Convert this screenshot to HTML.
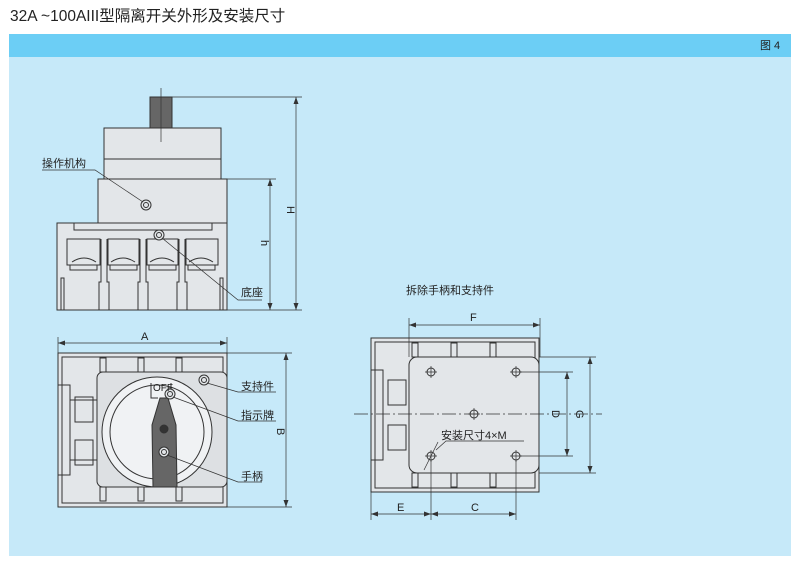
<!DOCTYPE html><html><head><meta charset="utf-8"><style>
body{margin:0;background:#fff;width:800px;height:569px;overflow:hidden;font-family:"Liberation Sans","Noto Sans CJK SC",sans-serif}
</style></head><body>
<svg width="800" height="569" viewBox="0 0 800 569" xmlns="http://www.w3.org/2000/svg" font-family="Liberation Sans, Noto Sans CJK SC, sans-serif">
<text x="10" y="21" font-size="15.5" fill="#222">32A ~100AIII型隔离开关外形及安装尺寸</text>
<rect x="9" y="34" width="782" height="23" fill="#6ccef5"/>
<rect x="9" y="57" width="782" height="499" fill="#c6e9f9"/>
<text x="760" y="49" font-size="11" fill="#222">图 4</text>
<g stroke="#333" stroke-width="1" fill="#e3e6e9">
<!-- top view -->
<rect x="150" y="97" width="22" height="31" fill="#666"/>
<rect x="104" y="128" width="117" height="51"/>
<line x1="104" y1="159" x2="221" y2="159"/>
<rect x="98" y="179" width="129" height="44"/>
<rect x="57" y="223" width="170" height="87"/>
<rect x="74" y="223" width="138" height="7"/>
<g fill="none">
<rect x="67" y="239" width="33" height="26"/><rect x="70" y="265" width="27" height="5"/><path d="M72 262 q12-8 24 0"/>
<rect x="108" y="239" width="31" height="26"/><rect x="110" y="265" width="27" height="5"/><path d="M111 262 q12-8 24 0"/>
<rect x="147" y="239" width="31" height="26"/><rect x="149" y="265" width="27" height="5"/><path d="M150 262 q12-8 24 0"/>
<rect x="186" y="239" width="32" height="26"/><rect x="188" y="265" width="27" height="5"/><path d="M189 262 q12-8 24 0"/>
<path d="M101 239 V282 H99 V310 M107 239 V282 H109 V310"/>
<path d="M140 239 V282 H138 V310 M146 239 V282 H148 V310"/>
<path d="M179 239 V282 H177 V310 M185 239 V282 H187 V310"/>
<path d="M61 310 V278 H64 V310 M223 310 V278 H220 V310"/>
</g>
<circle cx="146" cy="205" r="5"/><circle cx="146" cy="205" r="2.5"/>
<circle cx="159" cy="235" r="5"/><circle cx="159" cy="235" r="2.5"/>
<!-- front view -->
<rect x="58" y="353" width="169" height="154"/>
<rect x="62" y="357" width="161" height="146" fill="none"/>
<path d="M58 385 H70 V475 H58 M70 400 H97 M70 460 H97" fill="none"/>
<rect x="75" y="397" width="18" height="25" fill="none"/><rect x="75" y="440" width="18" height="25" fill="none"/>
<rect x="100" y="358" width="6" height="14" fill="none"/><rect x="138" y="358" width="6" height="14" fill="none"/><rect x="176" y="358" width="6" height="14" fill="none"/>
<rect x="100" y="487" width="6" height="14" fill="none"/><rect x="138" y="487" width="6" height="14" fill="none"/><rect x="176" y="487" width="6" height="14" fill="none"/>
<rect x="97" y="372" width="130" height="115" rx="6" fill="#dde0e3"/>
<circle cx="157" cy="432" r="55" fill="#f0f2f4"/>
<circle cx="157" cy="432" r="47" fill="#f0f2f4"/>
<path d="M151 383 V398 H158 M171 383 V396" fill="none"/>
<polygon points="160,398 168,398 176,425 177,487 153,487 152,425" fill="#666"/>
<circle cx="164" cy="429" r="4" fill="#333"/>
<circle cx="164" cy="452" r="5"/><circle cx="164" cy="452" r="2.5"/>
<circle cx="170" cy="394" r="5"/><circle cx="170" cy="394" r="2.5"/>
<circle cx="204" cy="380" r="5"/><circle cx="204" cy="380" r="2.5"/>
<!-- right view -->
<rect x="371" y="338" width="168" height="154"/>
<rect x="375" y="342" width="160" height="146" fill="none"/>
<path d="M371 370 H383 V460 H371" fill="none"/>
<rect x="388" y="380" width="18" height="25" fill="none"/><rect x="388" y="425" width="18" height="25" fill="none"/>
<rect x="412" y="343" width="6" height="14" fill="none"/><rect x="451" y="343" width="6" height="14" fill="none"/><rect x="490" y="343" width="6" height="14" fill="none"/>
<rect x="412" y="473" width="6" height="14" fill="none"/><rect x="451" y="473" width="6" height="14" fill="none"/><rect x="490" y="473" width="6" height="14" fill="none"/>
<rect x="409" y="357" width="130" height="116" rx="8"/>
<g fill="none"><circle cx="431" cy="372" r="4"/><circle cx="516" cy="372" r="4"/><circle cx="431" cy="456" r="4"/><circle cx="516" cy="456" r="4"/><circle cx="474" cy="414" r="4"/></g>
</g>
<g stroke="#333" stroke-width="0.7" fill="none">
<line x1="474" y1="408" x2="474" y2="420"/><line x1="468" y1="414" x2="480" y2="414"/>
<path d="M431 366V378M425 372H437M516 366V378M510 372H522M431 450V462M425 456H437M516 450V462M510 456H522"/>
<line x1="354" y1="414" x2="602" y2="414" stroke-dasharray="14,3,2,3"/>
<line x1="161" y1="88" x2="161" y2="142"/>
<!-- leaders -->
<path d="M42 170 H95 L143 202"/><path d="M162 238 L238 300 H262"/>
<path d="M207 383 L238 392 H276"/><path d="M173 397 L238 421 H276"/><path d="M167 455 L238 482 H262"/>
<path d="M436 450 L446 441 H524"/><path d="M424 470 L438 442"/>
<!-- dimensions -->
<path d="M172 97 H302 M221 179 H276 M227 310 H302"/>
<path d="M296 97 V310 M270 179 V310"/>
<path d="M58 337 V353 M227 337 V353 M58 343 H227"/>
<path d="M227 353 H292 M227 507 H292 M286 353 V507"/>
<path d="M409 318 V357 M540 318 V357 M409 325 H540"/>
<path d="M520 372 H573 M520 456 H573 M567 372 V456"/>
<path d="M539 357 H596 M539 473 H596 M590 357 V473"/>
<path d="M371 492 V520 M431 460 V520 M516 460 V520 M371 514 H516"/>
</g>
<g fill="#333">
<path d="M296 97l-2.5 7h5zM296 310l-2.5-7h5zM270 179l-2.5 7h5zM270 310l-2.5-7h5z"/>
<path d="M58 343l7-2.5v5zM227 343l-7-2.5v5zM286 353l-2.5 7h5zM286 507l-2.5-7h5z"/>
<path d="M409 325l7-2.5v5zM540 325l-7-2.5v5zM567 372l-2.5 7h5zM567 456l-2.5-7h5zM590 357l-2.5 7h5zM590 473l-2.5-7h5z"/>
<path d="M371 514l7-2.5v5zM431 514l-7-2.5v5zM431 514l7-2.5v5zM516 514l-7-2.5v5z"/>
</g>
<g font-size="11" fill="#222">
<text x="42" y="167">操作机构</text>
<text x="241" y="296">底座</text>
<text x="241" y="390">支持件</text>
<text x="241" y="419">指示牌</text>
<text x="241" y="480">手柄</text>
<text x="406" y="294">拆除手柄和支持件</text>
<text x="441" y="439">安装尺寸4×M</text>
<text x="141" y="340">A</text>
<text x="470" y="321">F</text>
<text x="397" y="511">E</text>
<text x="471" y="511">C</text>
<text x="153" y="391" font-size="10">OFF</text>
<text transform="translate(287,206) rotate(90)">H</text>
<text transform="translate(261,240) rotate(90)">h</text>
<text transform="translate(277,428) rotate(90)">B</text>
<text transform="translate(552,410) rotate(90)">D</text>
<text transform="translate(576,410) rotate(90)">G</text>
</g>
</svg>
</body></html>
